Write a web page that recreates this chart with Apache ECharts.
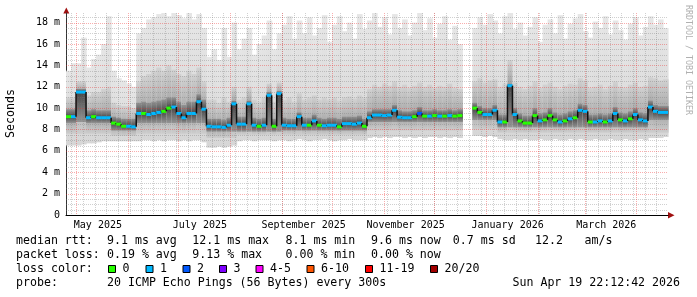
<!DOCTYPE html>
<html><head><meta charset="utf-8">
<script src="https://cdn.jsdelivr.net/npm/echarts@6/dist/echarts.min.js"></script>
<style>html,body{margin:0;padding:0;background:#fff}#c{width:697px;height:297px}</style>
</head><body><div id="c"></div>
<script>
// ---------------- data ----------------
const startTime = '2025-04-24T22:12:42Z';
const endTime = '2026-04-19T22:12:42Z';
const binDays = 3;

const median = [
 9.2, 9.2, 11.5, 11.5, 9.1, 9.2, 9.1, 9.1, 9.1, 8.6,
 8.5, 8.3, 8.3, 8.25, 9.5, 9.5, 9.4, 9.5, 9.6, 9.7,
 10.0, 10.1, 9.5, 9.1, 9.5, 9.5, 10.6, 9.9, 8.3, 8.25,
 8.25, 8.2, 8.4, 10.4, 8.5, 8.5, 10.4, 8.4, 8.3, 8.4,
 11.2, 8.3, 11.35, 8.4, 8.35, 8.35, 9.2, 8.4, 8.4, 8.8,
 8.4, 8.35, 8.4, 8.4, 8.25, 8.55, 8.55, 8.5, 8.6, 8.3,
 9.1, 9.35, 9.35, 9.3, 9.35, 9.8, 9.15, 9.1, 9.1, 9.2,
 9.5, 9.25, 9.25, 9.3, 9.25, 9.25, 9.3, 9.25, 9.3, null,
 null, 10.0, 9.6, 9.4, 9.4, 9.8, 8.7, 8.7, 12.1, 9.4,
 8.8, 8.6, 8.6, 9.3, 8.8, 8.9, 9.3, 8.9, 8.7, 8.8,
 9.0, 9.1, 9.8, 9.7, 8.7, 8.7, 8.8, 8.7, 8.8, 9.5,
 8.9, 8.8, 9.0, 9.4, 8.9, 8.8, 10.1, 9.7, 9.6, 9.6
];
// loss class index per bin (0 -> "0", 1 -> "1", 2 -> "2" ...)
const lossClass = [
 0,1,1,1,1,0,1,1,1,0,
 0,0,1,1,1,0,1,1,1,0,
 0,1,1,1,1,1,1,1,1,1,
 1,1,1,1,1,1,1,1,0,1,
 1,0,1,1,1,1,1,1,0,1,
 0,1,1,1,0,1,1,1,1,0,
 1,1,1,1,1,1,1,1,1,0,
 2,0,1,0,1,0,1,0,0,null,
 null,0,0,1,1,1,1,0,1,1,
 0,0,0,0,1,0,0,0,1,0,
 1,0,1,1,0,1,1,0,1,1,
 0,1,0,1,1,1,1,1,1,1
];
const smokeMin = [
 6.5,6.5,6.5,6.6,6.7,6.7,6.8,6.9,6.9,6.9,
 6.9,6.9,6.9,6.9,6.9,7.0,7.0,6.9,7.0,6.9,
 7.0,7.0,6.9,7.0,6.9,7.0,7.0,6.8,6.3,6.3,
 6.4,6.3,6.4,6.5,6.9,7.0,7.0,6.9,7.0,7.0,
 7.0,6.9,7.0,7.0,6.9,7.0,7.1,7.0,6.9,7.0,
 7.0,7.1,7.0,6.9,7.0,7.0,7.1,7.0,7.0,7.0,
 7.2,7.3,7.2,7.3,7.2,7.3,7.3,7.2,7.3,7.2,
 7.3,7.2,7.3,7.3,7.2,7.3,7.2,7.3,7.2,null,
 null,7.4,7.4,7.3,7.4,7.3,7.1,7.0,7.0,7.1,
 7.0,7.1,7.0,7.0,7.1,7.0,7.0,7.1,7.0,7.0,
 7.1,7.0,7.1,7.0,7.0,7.1,7.0,7.0,7.1,7.0,
 7.0,7.1,7.0,7.0,7.1,7.0,7.2,7.2,7.2,7.3
];
const smokeMax = [
 13.5,14.2,14.2,16.6,13.8,14.6,15.0,16.0,18.6,13.5,
 12.8,12.6,12.3,12.0,17.0,17.5,18.3,18.5,18.8,18.9,
 18.6,18.9,18.7,18.4,18.9,18.3,18.8,17.5,14.8,15.5,
 14.5,17.5,14.8,18.0,15.5,16.5,17.5,15.0,16.0,16.8,
 18.2,15.5,17.0,17.8,18.6,16.5,18.2,17.0,18.5,16.8,
 17.5,18.7,16.2,17.8,18.6,17.2,18.0,16.5,18.8,17.4,
 18.2,18.9,17.6,18.5,16.9,18.8,17.5,18.3,16.8,18.0,
 18.9,17.3,18.4,16.6,17.9,18.6,16.4,17.7,16.0,null,
 null,17.5,18.5,17.8,18.8,18.2,17.0,18.6,18.9,17.4,
 18.0,16.8,17.6,18.5,16.2,17.8,18.3,17.0,18.7,16.5,
 17.9,18.4,18.8,17.2,16.6,18.1,17.5,18.6,16.9,18.2,
 17.3,16.4,17.9,18.5,16.8,17.6,18.6,17.8,18.3,17.5
];
const midLo = [
 7.6,7.6,7.6,7.6,7.6,7.6,7.6,7.6,7.6,7.4,
 7.4,7.4,7.4,7.4,7.6,7.6,7.6,7.6,7.6,7.6,
 7.6,7.6,7.6,7.6,7.6,7.6,7.6,7.6,7.2,7.2,
 7.2,7.2,7.2,7.2,7.5,7.5,7.5,7.5,7.5,7.5,
 7.5,7.5,7.5,7.5,7.5,7.5,7.5,7.5,7.5,7.5,
 7.5,7.5,7.5,7.5,7.5,7.5,7.5,7.5,7.5,7.5,
 7.9,7.9,7.9,7.9,7.9,7.9,7.9,7.9,7.9,7.9,
 7.9,7.9,7.9,7.9,7.9,7.9,7.9,7.9,7.9,null,
 null,8.0,8.0,8.0,8.0,8.0,7.7,7.7,7.7,7.7,
 7.7,7.7,7.7,7.7,7.7,7.7,7.7,7.7,7.7,7.7,
 7.7,7.7,7.7,7.7,7.7,7.7,7.7,7.7,7.7,7.7,
 7.7,7.7,7.7,7.7,7.7,7.7,7.7,7.7,7.7,7.7
];
const midHi = [
 11.0,11.0,12.5,12.5,11.2,11.5,11.5,11.8,12.0,10.5,
 10.3,10.2,10.2,10.0,12.5,13.0,13.2,13.5,13.8,13.5,
 14.0,13.6,13.2,13.0,13.5,13.2,13.8,12.5,10.8,10.8,
 10.5,11.0,10.6,12.0,10.8,11.0,12.0,10.8,10.6,11.0,
 12.3,10.6,12.4,10.8,11.0,10.6,11.4,10.8,11.0,11.2,
 10.8,11.0,10.8,11.0,10.7,11.0,11.1,10.9,11.2,11.0,
 11.8,12.2,12.0,12.3,12.1,12.5,12.0,12.2,11.9,12.1,
 12.4,12.0,12.2,11.9,12.1,12.0,12.3,11.9,11.8,null,
 null,12.5,12.8,12.4,12.6,12.7,12.0,12.3,14.5,12.4,
 12.0,11.8,12.1,12.5,11.9,12.2,12.4,12.0,11.8,12.1,
 12.3,12.2,12.8,12.6,11.9,12.0,12.2,11.8,12.1,12.5,
 12.0,11.9,12.2,12.4,12.0,12.1,12.9,12.8,12.6,12.7
];
const darkLo = [
 8.6,8.6,8.7,8.7,8.6,8.6,8.6,8.6,8.6,7.9,
 7.9,7.9,7.9,7.9,8.6,8.6,8.6,8.6,8.6,8.6,
 8.6,8.6,8.6,8.6,8.6,8.6,8.6,8.6,7.8,7.8,
 7.8,7.8,7.8,7.8,7.8,7.8,7.8,7.8,7.8,7.8,
 7.8,7.8,7.8,7.9,7.9,7.9,7.9,7.9,7.9,7.9,
 7.9,7.9,7.9,7.9,7.9,7.9,7.9,7.9,7.9,7.9,
 8.7,8.7,8.7,8.7,8.7,8.7,8.7,8.7,8.7,8.7,
 8.7,8.7,8.7,8.7,8.7,8.7,8.7,8.7,8.7,null,
 null,8.9,8.9,8.9,8.9,8.9,8.2,8.2,8.2,8.2,
 8.2,8.2,8.2,8.2,8.2,8.2,8.2,8.2,8.2,8.2,
 8.2,8.2,8.2,8.2,8.2,8.2,8.2,8.2,8.2,8.2,
 8.2,8.2,8.2,8.2,8.2,8.2,8.9,8.9,8.9,8.9
];
const darkHi = [
 9.9,9.9,11.8,11.8,9.8,9.9,9.8,9.8,9.8,9.2,
 9.1,9.0,9.0,9.0,10.5,10.6,10.5,10.6,10.7,10.8,
 11.0,11.0,10.6,10.3,10.6,10.6,11.3,10.8,9.0,9.0,
 9.0,8.9,9.1,10.7,9.2,9.2,10.7,9.1,9.0,9.1,
 11.5,9.0,11.6,9.1,9.0,9.0,9.6,9.1,9.1,9.4,
 9.1,9.0,9.1,9.1,9.0,9.2,9.2,9.2,9.3,9.0,
 9.7,9.9,9.9,9.9,9.9,10.3,9.8,9.7,9.7,9.8,
 10.1,9.8,9.8,9.9,9.8,9.8,9.9,9.8,9.9,null,
 null,10.5,10.2,10.0,10.0,10.3,9.4,9.4,12.3,10.0,
 9.5,9.3,9.3,10.0,9.5,9.6,10.0,9.6,9.4,9.5,
 9.7,9.8,10.4,10.3,9.4,9.4,9.5,9.4,9.5,10.1,
 9.6,9.5,9.7,10.0,9.6,9.5,10.7,10.3,10.2,10.2
];

// axis ticks / labels
const monthTicks = ['2025-05-01','2025-06-01','2025-07-01','2025-08-01','2025-09-01','2025-10-01',
  '2025-11-01','2025-12-01','2026-01-01','2026-02-01','2026-03-01','2026-04-01'];
const monthLabels = ['May 2025','July 2025','September 2025','November 2025','January 2026','March 2026'];
const monthLabelDates = ['2025-05-14','2025-07-14','2025-09-14','2025-11-14','2026-01-14','2026-03-14'];
const yMajor = [2,4,6,8,10,12,14,16,18];
const yMax = 18.9;

const lossColors = ['#26ff00','#00b8ff','#0059ff','#7e00ff','#ff00ff','#ff5500','#ff0000','#a10000'];
const lossLabels = ['0','1','2','3','4-5','6-10','11-19','20/20'];

// ---------------- derived helpers ----------------
const DAY = 86400000;
const T0 = Date.parse(startTime), T1 = Date.parse(endTime);
const BIN = binDays * DAY;
const binStart = median.map((_, i) => T0 + i * BIN);
const yMinor = [];
for (let v = 0.5; v < yMax; v += 0.5) if (Math.abs(v % 2) > 1e-6) yMinor.push(v);
const xMinor = [];
for (let t = Date.parse('2025-04-28'); t < T1; t += 7 * DAY) xMinor.push(t);

const FONT = '"DejaVu Sans Mono", monospace';
const grad = (c0, c1) => new echarts.graphic.LinearGradient(0, 0, 0, 1, [{offset:0, color:c0},{offset:1, color:c1}]);

function smokeItem(params, api) {
  const i = params.dataIndex;
  if (median[i] == null) return null;
  const t0 = binStart[i], t1 = t0 + BIN;
  const r = (lo, hi, fill) => {
    const a = api.coord([t0, hi]), b = api.coord([t1, lo]);
    return {type:'rect', shape:{x:a[0], y:a[1], width:b[0]-a[0]+0.6, height:b[1]-a[1]}, style:{fill}};
  };
  const m = median[i];
  return {type:'group', children:[
    r(smokeMin[i], smokeMax[i], grad('#e6e6e6', '#d6d6d6')),
    r(m, midHi[i], grad('#d2d2d2', '#a2a2a2')),
    r(midLo[i], m, grad('#a2a2a2', '#cdcdcd')),
    r(m, darkHi[i], grad('#949494', '#474747')),
    r(darkLo[i], m, grad('#474747', '#949494'))
  ]};
}

function medianItem(params, api) {
  const i = params.dataIndex;
  const m = median[i];
  if (m == null) return null;
  const t0 = binStart[i], t1 = t0 + BIN;
  const a = api.coord([t0, m]), b = api.coord([t1, m]);
  const kids = [];
  if (i > 0 && median[i-1] != null) {
    const p = api.coord([t0, median[i-1]]);
    kids.push({type:'line', shape:{x1:a[0], y1:p[1], x2:a[0], y2:a[1]}, style:{stroke:'#101010', lineWidth:1.5}});
  }
  kids.push({type:'rect', shape:{x:a[0], y:a[1]-1.5, width:b[0]-a[0], height:3}, style:{fill:lossColors[lossClass[i]]}});
  return {type:'group', children:kids};
}

function vLine(color) {
  return function (params, api) {
    const t = api.value(0);
    const top = api.coord([t, yMax]), bot = api.coord([t, 0]);
    const x = Math.round(top[0]) + 0.5;
    return {type:'line', shape:{x1:x, y1:Math.round(top[1]), x2:x, y2:Math.round(bot[1])}, style:{stroke:color, lineWidth:1, lineDash:[1,1]}};
  };
}
function hLine(color) {
  return function (params, api) {
    const v = api.value(1);
    const l = api.coord([T0, v]), r = api.coord([T1, v]);
    const y = Math.round(l[1]) + 0.5;
    return {type:'line', shape:{x1:Math.round(l[0]), y1:y, x2:Math.round(r[0]), y2:y}, style:{stroke:color, lineWidth:1, lineDash:[1,1]}};
  };
}

const minorColor = 'rgba(120,120,120,0.35)', majorColor = 'rgba(240,40,40,0.38)';

const option = {
  animation: false,
  backgroundColor: '#ffffff',
  grid: {left: 66, right: 29, top: 13, bottom: 82, containLabel: false},
  xAxis: {type:'time', min:T0, max:T1, axisLabel:{show:false}, axisTick:{show:false}, splitLine:{show:false},
    axisLine:{lineStyle:{color:'#000', width:1}}},
  yAxis: {type:'value', min:0, max:yMax, interval:2, splitLine:{show:false}, axisTick:{show:false},
    axisLine:{show:true, lineStyle:{color:'#333', width:1}},
    axisLabel:{showMaxLabel:false, margin:6, color:'#000', fontFamily:FONT, fontSize:10,
      formatter: v => v === 0 ? '0' : v + ' m'}},
  series: [
    {type:'custom', name:'smoke', z:1, renderItem: smokeItem, data: binStart.map((t,i) => [t, median[i] == null ? 0 : median[i]]), silent:true},
    {type:'custom', z:2, renderItem: vLine(minorColor), data: xMinor.map(t => [t, 0]), silent:true},
    {type:'custom', z:2, renderItem: hLine(minorColor), data: yMinor.map(v => [T0, v]), silent:true},
    {type:'custom', z:3, renderItem: vLine(majorColor), data: monthTicks.map(d => [Date.parse(d), 0]), silent:true},
    {type:'custom', z:3, renderItem: hLine(majorColor), data: yMajor.map(v => [T0, v]), silent:true},
    {type:'custom', name:'median', z:4, renderItem: medianItem, data: binStart.map((t,i) => [t, median[i] == null ? 0 : median[i]]), silent:true},
    {type:'custom', z:5, clip:false, silent:true, renderItem: (params, api) => {
        const p = api.coord([api.value(0), 0]);
        return {type:'text', x:p[0], y:p[1] + 10, style:{text: monthLabels[params.dataIndex], font:'10px ' + FONT, fill:'#000', align:'center', verticalAlign:'middle'}};
      }, data: monthLabelDates.map(d => [Date.parse(d), 0])}
  ],
  graphic: []
};

// text & decorations
const F = '11.6px ' + FONT;
const txt = (x, y, s, extra) => Object.assign({type:'text', x, y, silent:true, style:Object.assign({text:s, font:F, fill:'#000', verticalAlign:'middle'}, extra || {})});
const g = option.graphic;
g.push({type:'polygon', silent:true, shape:{points:[[63.3,13.5],[69.3,13.5],[66.3,7.5]]}, style:{fill:'#a01010'}});
g.push({type:'polygon', silent:true, shape:{points:[[668,212],[668,218.5],[674.5,215.2]]}, style:{fill:'#a01010'}});
g.push(Object.assign(txt(10.8, 113.5, 'Seconds', {align:'center'}), {rotation: Math.PI/2}));
g.push(Object.assign(txt(688.5, 5, 'RRDTOOL / TOBI OETIKER', {font:'8.3px ' + FONT, fill:'#b0b0b0', align:'left'}), {rotation: -Math.PI/2}));
const rows = [
  [241, [[16,'median rtt:'],[107,'9.1 ms avg'],[192.3,'12.1 ms max'],[285.5,'8.1 ms min'],[371,'9.6 ms now'],[452.8,'0.7 ms sd'],[535,'12.2'],[584.5,'am/s']]],
  [255, [[16,'packet loss:'],[107,'0.19 % avg'],[192.3,'9.13 % max'],[285.5,'0.00 % min'],[371,'0.00 % now']]],
  [269, [[16,'loss color:']]],
  [283, [[16,'probe:'],[107,'20 ICMP Echo Pings (56 Bytes) every 300s']]]
];
rows.forEach(([y, items]) => items.forEach(([x, s]) => g.push(txt(x, y, s))));
g.push(txt(680, 283, 'Sun Apr 19 22:12:42 2026', {align:'right'}));
const swX = [108.5, 146, 183, 219.5, 256, 307, 365.5, 430.5];
lossLabels.forEach((lab, k) => {
  g.push({type:'rect', silent:true, shape:{x:swX[k], y:265.5, width:7, height:7}, style:{fill:lossColors[k], stroke:'#000', lineWidth:1}});
  g.push(txt(swX[k] + 14, 269, lab));
});

const chart = echarts.init(document.getElementById('c'), null, {renderer:'canvas', width:697, height:297});
chart.setOption(option);
</script></body></html>
